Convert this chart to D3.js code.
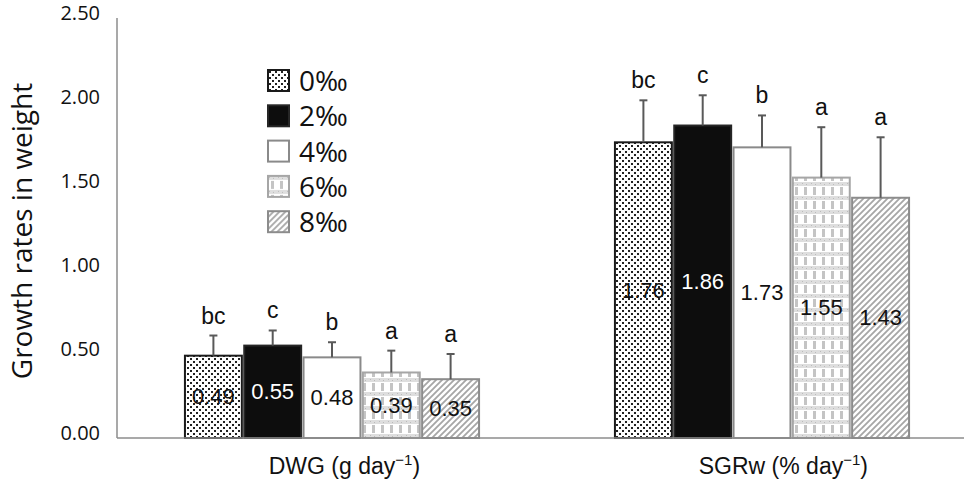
<!DOCTYPE html>
<html>
<head>
<meta charset="utf-8">
<script src="https://cdn.jsdelivr.net/npm/d3@7"></script>
<style>
  body { margin: 0; background: #fff; }
  svg { display: block; }
</style>
</head>
<body>
<svg id="chart" width="964" height="483"></svg>
<script>
// data
const categories = ["DWG", "SGRw"];
const groups = ["0‰", "2‰", "4‰", "6‰", "8‰"];
const dwgValues = [0.49, 0.55, 0.48, 0.39, 0.35];
const dwgErrors = [0.12, 0.09, 0.09, 0.13, 0.15];
const dwgLetters = ["bc", "c", "b", "a", "a"];
const sgrValues = [1.76, 1.86, 1.73, 1.55, 1.43];
const sgrErrors = [0.25, 0.18, 0.19, 0.30, 0.36];
const sgrLetters = ["bc", "c", "b", "a", "a"];
const yTicks = [0, 0.5, 1, 1.5, 2, 2.5];

const rows = [];
categories.forEach((c, ci) => {
    const vals = ci === 0 ? dwgValues : sgrValues;
    const errs = ci === 0 ? dwgErrors : sgrErrors;
    const lets = ci === 0 ? dwgLetters : sgrLetters;
    groups.forEach((g, gi) => {
        rows.push({cat: c, group: g, gi: gi, value: vals[gi], err: errs[gi], letter: lets[gi]});
    });
});

const svg = d3.select("#chart");
const defs = svg.append("defs");

// dotted
const pDot = defs.append("pattern").attr("id", "pat0").attr("patternUnits", "userSpaceOnUse")
    .attr("width", 6).attr("height", 6);
pDot.append("rect").attr("width", 6).attr("height", 6).attr("fill", "#fff");
pDot.append("rect").attr("x", 1).attr("y", 1).attr("width", 2).attr("height", 2).attr("fill", "#222");
pDot.append("rect").attr("x", 4).attr("y", 4).attr("width", 2).attr("height", 2).attr("fill", "#222");

// checker-like grey
const pChk = defs.append("pattern").attr("id", "pat3").attr("patternUnits", "userSpaceOnUse")
    .attr("width", 9).attr("height", 14);
pChk.append("rect").attr("width", 9).attr("height", 14).attr("fill", "#fff");
pChk.append("rect").attr("x", 0).attr("y", 0).attr("width", 9).attr("height", 4).attr("fill", "#dedede");
pChk.append("rect").attr("x", 1).attr("y", 1).attr("width", 1).attr("height", 1).attr("fill", "#bbb");
pChk.append("rect").attr("x", 5).attr("y", 2).attr("width", 1).attr("height", 1).attr("fill", "#bbb");
pChk.append("rect").attr("x", 3).attr("y", 5).attr("width", 3).attr("height", 8).attr("fill", "#c4c4c4");

// diagonal hatch
const pHat = defs.append("pattern").attr("id", "pat4").attr("patternUnits", "userSpaceOnUse")
    .attr("width", 6).attr("height", 6);
pHat.append("rect").attr("width", 6).attr("height", 6).attr("fill", "#fff");
pHat.append("path").attr("d", "M-1,1 L1,-1 M0,6 L6,0 M5,7 L7,5")
    .attr("stroke", "#a6a6a6").attr("stroke-width", 1.8);

const fills = ["url(#pat0)", "#0d0d0d", "#fff", "url(#pat3)", "url(#pat4)"];
const strokes = ["#1a1a1a", "#262626", "#8a8a8a", "#a6a6a6", "#8c8c8c"];
const labelColors = ["#111", "#fff", "#111", "#111", "#111"];

const y = d3.scaleLinear().domain([0, 2.5]).range([438, 18]);
const x0 = d3.scaleBand().domain(categories).range([117, 977])
    .paddingInner(0.316).paddingOuter(0.158);
const x1 = d3.scaleBand().domain(groups).range([0, x0.bandwidth()]).paddingInner(0.04);

// y axis
svg.append("line").attr("x1", 117).attr("x2", 117).attr("y1", y(2.5)).attr("y2", y(0))
    .attr("stroke", "#8c8c8c").attr("stroke-width", 1.5);
svg.append("g").selectAll("text").data(yTicks).join("text")
    .attr("x", 100).attr("y", d => y(d) - 3)
    .attr("text-anchor", "end").attr("dominant-baseline", "middle")
    .attr("font-family", "'Open Sans', sans-serif").attr("font-size", 20).attr("fill", "#111")
    .text(d => d3.format(".2f")(d));

svg.append("text")
    .attr("transform", "translate(32,231) rotate(-90)")
    .attr("text-anchor", "middle")
    .attr("font-family", "'Open Sans', sans-serif").attr("font-size", 28).attr("fill", "#111")
    .text("Growth rates in weight");

// bars
const gBars = svg.append("g");
gBars.selectAll("rect").data(rows).join("rect")
    .attr("x", d => x0(d.cat) + x1(d.group))
    .attr("y", d => y(d.value))
    .attr("width", x1.bandwidth())
    .attr("height", d => y(0) - y(d.value))
    .attr("fill", d => fills[d.gi])
    .attr("stroke", d => strokes[d.gi])
    .attr("stroke-width", 2);

// error bars
const gErr = svg.append("g").attr("stroke", "#595959").attr("stroke-width", 2);
rows.forEach(d => {
    const cx = x0(d.cat) + x1(d.group) + x1.bandwidth() / 2;
    gErr.append("line").attr("x1", cx).attr("x2", cx)
        .attr("y1", y(d.value)).attr("y2", y(d.value + d.err));
    gErr.append("line").attr("x1", cx - 4).attr("x2", cx + 4)
        .attr("y1", y(d.value + d.err)).attr("y2", y(d.value + d.err));
});

// significance letters
svg.append("g").selectAll("text").data(rows).join("text")
    .attr("x", d => x0(d.cat) + x1(d.group) + x1.bandwidth() / 2)
    .attr("y", d => y(d.value + d.err) - 12)
    .attr("text-anchor", "middle")
    .attr("font-family", "'Liberation Sans', Arial, sans-serif").attr("font-size", 23).attr("fill", "#111")
    .text(d => d.letter);

// value labels in middle of bars
svg.append("g").selectAll("text").data(rows).join("text")
    .attr("x", d => x0(d.cat) + x1(d.group) + x1.bandwidth() / 2)
    .attr("y", d => (y(d.value) + y(0)) / 2)
    .attr("text-anchor", "middle").attr("dominant-baseline", "central")
    .attr("font-family", "'Liberation Sans', Arial, sans-serif").attr("font-size", 22)
    .attr("fill", d => labelColors[d.gi])
    .text(d => d3.format(".2f")(d.value));

// baseline
svg.append("line").attr("x1", 117).attr("x2", 964).attr("y1", y(0)).attr("y2", y(0))
    .attr("stroke", "#8c8c8c").attr("stroke-width", 1.5);

// category labels
const catText = svg.append("g").selectAll("text").data(categories).join("text")
    .attr("x", d => x0(d) + x0.bandwidth() * 0.285)
    .attr("y", 474)
    .attr("font-family", "'Liberation Sans', Arial, sans-serif").attr("font-size", 23).attr("fill", "#111");
catText.each(function(d) {
    const t = d3.select(this);
    t.append("tspan").text(d === "DWG" ? "DWG (g day" : "SGRw (% day");
    t.append("tspan").attr("dy", -9).attr("font-size", 15).text("−1");
    t.append("tspan").attr("dy", 9).text(")");
});

// legend
const legend = svg.append("g").attr("transform", "translate(268,70)");
const li = legend.selectAll("g").data(groups).join("g")
    .attr("transform", (d, i) => `translate(0,${i * 35.3})`);
li.append("rect").attr("width", 21).attr("height", 21)
    .attr("fill", (d, i) => fills[i]).attr("stroke", (d, i) => strokes[i]).attr("stroke-width", 2);
li.append("text").attr("x", 31).attr("y", 10).attr("dominant-baseline", "central")
    .attr("font-family", "'Open Sans', sans-serif").attr("font-size", 28).attr("fill", "#111")
    .text(d => d);
</script>
</body>
</html>
